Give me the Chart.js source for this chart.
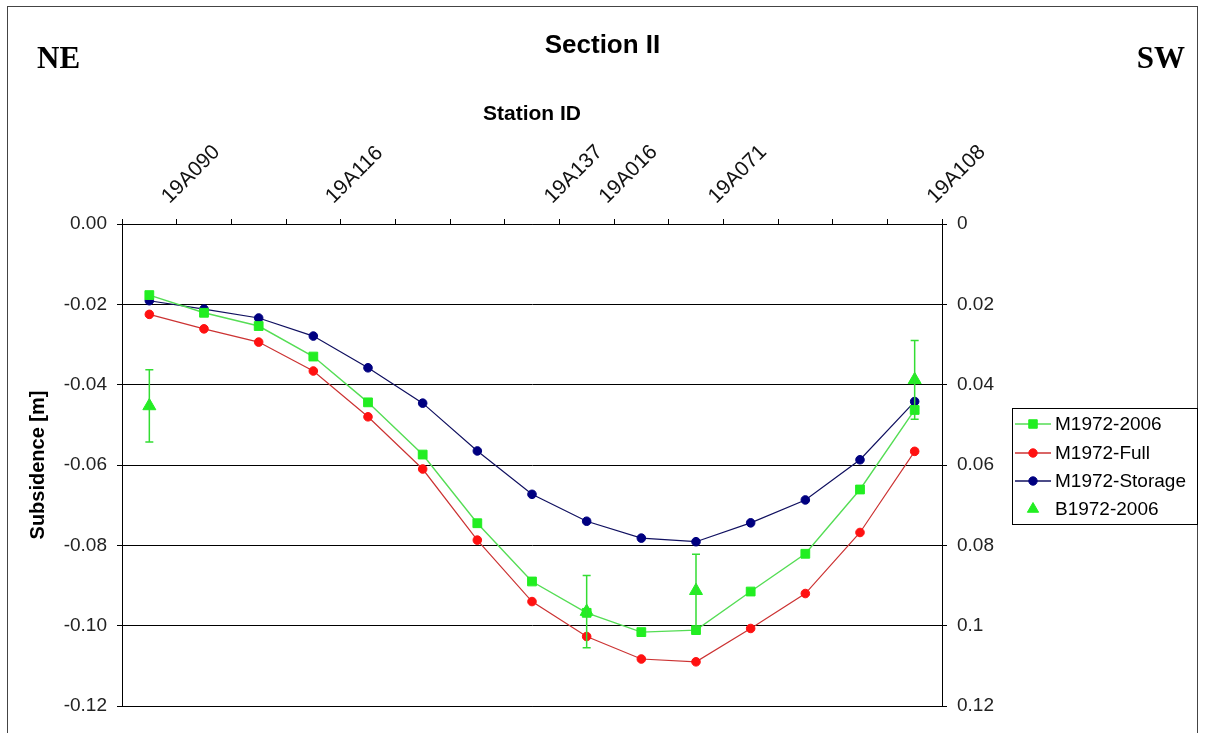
<!DOCTYPE html>
<html><head><meta charset="utf-8">
<script src="https://cdn.jsdelivr.net/npm/chart.js@4.4.1/dist/chart.umd.min.js"></script>
<style>html,body{margin:0;padding:0;background:#fff;}#wrap{position:relative;width:1205px;height:733px;}</style>
</head><body><div id="wrap"><canvas id="c" width="1205" height="733"></canvas></div>
<script>
// Station labels along the top axis (only some stations are named)
const stationLabels = ['19A090','','','19A116','','','','19A137','19A016','','19A071','','','','19A108'];
// Series values (subsidence in metres, negative = down)
const m1972_2006 = [-0.0177,-0.0221,-0.0254,-0.0330,-0.0444,-0.0574,-0.0745,-0.0890,-0.0968,-0.1016,-0.1011,-0.0915,-0.0821,-0.0661,-0.0463];
const m1972_full = [-0.0225,-0.0261,-0.0294,-0.0366,-0.0480,-0.0610,-0.0787,-0.0940,-0.1027,-0.1083,-0.1090,-0.1007,-0.0920,-0.0768,-0.0566];
const m1972_storage = [-0.0191,-0.0212,-0.0234,-0.0279,-0.0358,-0.0446,-0.0565,-0.0673,-0.0740,-0.0782,-0.0791,-0.0744,-0.0687,-0.0587,-0.0442];
const b1972_2006 = [-0.0453,null,null,null,null,null,null,null,-0.0965,null,-0.0913,null,null,null,-0.0388];
const b1972_2006_err = [0.0090,null,null,null,null,null,null,null,0.0090,null,0.0091,null,null,null,0.0098];
// Axis ticks
const yMin = -0.12, yMax = 0, yStep = 0.02;

const FONT = '"Liberation Sans", Arial, sans-serif';

const framePlugin = {
  id: 'frame',
  afterDraw(chart) {
    const ctx = chart.ctx;
    ctx.save();
    ctx.strokeStyle = '#444';
    ctx.lineWidth = 1;
    ctx.strokeRect(7.5, 6.5, 1190, 760);
    ctx.fillStyle = '#000';
    ctx.font = 'bold 31px "Liberation Serif", "Times New Roman", serif';
    ctx.textBaseline = 'alphabetic';
    ctx.textAlign = 'left';
    ctx.fillText('NE', 37, 68);
    ctx.textAlign = 'right';
    ctx.fillText('SW', 1185, 68);
    ctx.restore();
  }
};

const errorBarPlugin = {
  id: 'errorBars',
  afterDatasetsDraw(chart) {
    const idx = 3;
    const meta = chart.getDatasetMeta(idx);
    const y = chart.scales.y;
    const ctx = chart.ctx;
    ctx.save();
    ctx.strokeStyle = '#33dd33';
    ctx.lineWidth = 1.5;
    b1972_2006.forEach((v, i) => {
      if (v === null || b1972_2006_err[i] === null) return;
      const x = meta.data[i].x;
      const yt = y.getPixelForValue(v + b1972_2006_err[i]);
      const yb = y.getPixelForValue(v - b1972_2006_err[i]);
      ctx.beginPath();
      ctx.moveTo(x, yt); ctx.lineTo(x, yb);
      ctx.moveTo(x - 4, yt); ctx.lineTo(x + 4, yt);
      ctx.moveTo(x - 4, yb); ctx.lineTo(x + 4, yb);
      ctx.stroke();
    });
    ctx.restore();
  }
};

function drawMarker(ctx, style, r, x, y, fill, stroke) {
  ctx.fillStyle = fill; ctx.strokeStyle = stroke; ctx.lineWidth = 1;
  ctx.beginPath();
  if (style === 'rect') {
    const s = Math.SQRT1_2 * r;
    ctx.rect(x - s, y - s, 2 * s, 2 * s);
  } else if (style === 'triangle') {
    for (let k = 0; k < 3; k++) {
      const a = k * 2 * Math.PI / 3;
      const px = x + Math.sin(a) * r, py = y - Math.cos(a) * r;
      k === 0 ? ctx.moveTo(px, py) : ctx.lineTo(px, py);
    }
    ctx.closePath();
  } else {
    ctx.arc(x, y, r, 0, Math.PI * 2);
  }
  ctx.fill(); ctx.stroke();
}

const legendPlugin = {
  id: 'boxLegend',
  afterDraw(chart) {
    const ctx = chart.ctx;
    ctx.save();
    ctx.strokeStyle = '#000'; ctx.lineWidth = 1;
    ctx.strokeRect(1012.5, 408.5, 185, 116);
    const rows = [424, 453, 481, 509];
    chart.data.datasets.forEach((ds, i) => {
      const y = rows[i];
      if (ds.showLine !== false) {
        ctx.strokeStyle = ds.borderColor; ctx.lineWidth = 1.5;
        ctx.beginPath(); ctx.moveTo(1015, y); ctx.lineTo(1051, y); ctx.stroke();
      }
      drawMarker(ctx, ds.pointStyle, ds.pointStyle === 'triangle' ? 6.5 : (ds.pointStyle === 'rect' ? 6 : 4.2), 1033, y, ds.pointBackgroundColor, ds.pointBorderColor);
      ctx.fillStyle = '#000';
      ctx.font = '19px ' + FONT;
      ctx.textAlign = 'left'; ctx.textBaseline = 'middle';
      ctx.fillText(ds.label, 1055, y + 1);
    });
    ctx.restore();
  }
};

new Chart(document.getElementById('c'), {
  type: 'line',
  data: {
    labels: stationLabels,
    datasets: [
      { label: 'M1972-2006', data: m1972_2006, borderColor: '#55dd55', borderWidth: 1.4,
        pointStyle: 'rect', pointRadius: 6.2, pointBackgroundColor: '#22ee22', pointBorderColor: '#22ee22', pointBorderWidth: 1 },
      { label: 'M1972-Full', data: m1972_full, borderColor: '#cc3333', borderWidth: 1.2,
        pointStyle: 'circle', pointRadius: 4.3, pointBackgroundColor: '#ff1111', pointBorderColor: '#ff1111', pointBorderWidth: 1 },
      { label: 'M1972-Storage', data: m1972_storage, borderColor: '#101060', borderWidth: 1.2,
        pointStyle: 'circle', pointRadius: 4.3, pointBackgroundColor: '#000080', pointBorderColor: '#000080', pointBorderWidth: 1 },
      { label: 'B1972-2006', data: b1972_2006, showLine: false, borderColor: '#22ee22',
        pointStyle: 'triangle', pointRadius: 7.5, pointBackgroundColor: '#22ee22', pointBorderColor: '#22ee22', pointBorderWidth: 1 }
    ]
  },
  options: {
    responsive: false,
    animation: false,
    spanGaps: false,
    layout: { padding: 0 },
    plugins: {
      legend: { display: false },
      tooltip: { enabled: false },
      title: { display: true, text: 'Section II', color: '#000',
        font: { family: FONT, size: 26, weight: 'bold' }, padding: { top: 30, bottom: 8 } }
    },
    scales: {
      x: {
        type: 'category', position: 'bottom', offset: true,
        ticks: { display: false },
        grid: { display: false, drawTicks: false },
        border: { display: true, color: '#000', width: 1 },
        afterFit(s) { s.height = 27; }
      },
      x2: {
        type: 'category', position: 'top', labels: stationLabels, offset: true,
        grid: { offset: true, drawOnChartArea: false, tickLength: 5, color: '#000' },
        border: { display: true, color: '#000', width: 1 },
        ticks: { autoSkip: false, minRotation: 45, maxRotation: 45, labelOffset: 34, padding: 10,
          color: '#111', font: { family: FONT, size: 21 } },
        title: { display: true, text: 'Station ID', color: '#000',
          font: { family: FONT, size: 21, weight: 'bold' }, padding: { top: 32, bottom: 0 } },
        afterFit(s) { s.height = 224 - 69.2; }
      },
      y: {
        position: 'left', min: yMin, max: yMax,
        ticks: { stepSize: yStep, padding: 10, color: '#222', font: { family: FONT, size: 19 },
          callback: v => (Math.abs(v) < 1e-9 ? 0 : v).toFixed(2) },
        grid: { color: '#000', lineWidth: 1, tickLength: 5 },
        border: { display: true, color: '#000', width: 1 },
        title: { display: true, text: 'Subsidence [m]', color: '#000',
          font: { family: FONT, size: 20, weight: 'bold' }, padding: { top: 26, bottom: 0 } },
        afterFit(s) { s.width = 122; }
      },
      y2: {
        position: 'right', min: yMin, max: yMax,
        ticks: { stepSize: yStep, padding: 10, color: '#222', font: { family: FONT, size: 19 },
          callback: v => String(parseFloat(Math.abs(v).toFixed(2))) },
        grid: { drawOnChartArea: false, color: '#000', tickLength: 5 },
        border: { display: true, color: '#000', width: 1 },
        afterFit(s) { s.width = 1205 - 942; }
      }
    }
  },
  plugins: [framePlugin, errorBarPlugin, legendPlugin]
});
</script></body></html>
